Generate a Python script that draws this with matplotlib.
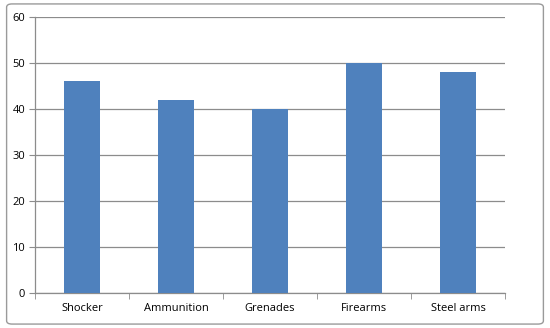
import numpy as np
import matplotlib
matplotlib.use("Agg")
import matplotlib.pyplot as plt
from matplotlib.patches import FancyBboxPatch

categories = ["Shocker", "Ammunition", "Grenades", "Firearms", "Steel arms"]
values = [46, 42, 40, 50, 48]
y_ticks = [0, 10, 20, 30, 40, 50, 60]

plt.rcParams['font.family'] = ['Open Sans', 'DejaVu Sans']

fig = plt.figure(figsize=(5.5, 3.28), dpi=100)

# outer chart frame, kept behind the axes
frame = FancyBboxPatch((0.012, 0.012), 0.976, 0.976,
                       boxstyle="round,pad=0,rounding_size=0.01",
                       transform=fig.transFigure, facecolor="white",
                       edgecolor="#9a9a9a", linewidth=1.0, zorder=-5)
fig.add_artist(frame)

ax = fig.add_axes([0.0636, 0.1067, 0.8545, 0.8413])
ax.set_facecolor("none")

x = np.arange(len(categories))
ax.bar(x, values, width=0.38, color="#4F81BD", zorder=3)

ax.set_xlim(-0.5, len(categories) - 0.5)
ax.set_ylim(0, 60)
ax.set_yticks(y_ticks)
ax.yaxis.grid(True, color="#8c8c8c", linewidth=0.9, zorder=0)

ax.set_xticks(x)
ax.set_xticklabels(categories, fontsize=8)
ax.tick_params(axis="x", length=0, pad=7)
# tick marks between categories
ax.set_xticks(np.arange(-0.5, len(categories), 1.0), minor=True)
ax.tick_params(axis="x", which="minor", length=4, color="#8c8c8c", direction="out")
ax.tick_params(axis="y", labelsize=8, length=4, color="#8c8c8c", pad=3)

for side in ["top", "right"]:
    ax.spines[side].set_visible(False)
for side in ["left", "bottom"]:
    ax.spines[side].set_color("#8c8c8c")
    ax.spines[side].set_linewidth(0.9)

fig.savefig("out.png", dpi=100)
